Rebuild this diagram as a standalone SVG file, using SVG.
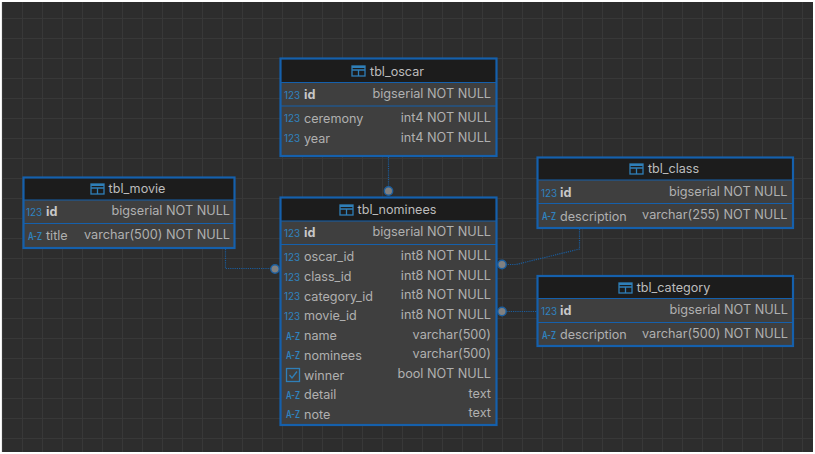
<svg xmlns="http://www.w3.org/2000/svg" width="815" height="454" viewBox="0 0 815 454">
<style>
text{font-family:"Inter","Liberation Sans",sans-serif;font-size:12.6px;fill:#b0b0b0}
.t{font-size:12.6px;text-anchor:middle;fill:#bcbcbc}
.b{font-weight:700;fill:#c8c8c8}
.r{text-anchor:end;font-size:12.7px}
.n{font-size:9.8px;fill:#2f83c0}
.a{font-size:10px;fill:#2f83c0;font-weight:600}
.body{fill:#3f3f3f}
.head{fill:#1c1c1c}
.frame{fill:none;stroke:#1560ac;stroke-width:2.2}
.sep{stroke:#1560ac;stroke-width:1}
.g{stroke:#383838;stroke-width:1.2;fill:none}
.c{fill:none;stroke:#1a5c9c;stroke-width:1.2;stroke-dasharray:1.2 1}
.d{fill:#808080;stroke:#1c5f9f;stroke-width:1.4}
.i{fill:none;stroke:#2f7fb8;stroke-width:1.3}
</style>
<defs>
<g id="ti"><rect x="0" y="0" width="13" height="10" class="i"/><path d="M0 4H13M6.500 4V10" class="i"/><rect x="0" y="0" width="13" height="2" fill="#2f7fb8"/></g>
</defs>
<rect width="815" height="454" fill="#ffffff"/>
<rect x="2" y="2" width="811" height="450" fill="#2d2d2d"/>
<path class="g" d="M2.500 2V452M22.500 2V452M42.500 2V452M62.500 2V452M82.500 2V452M102.500 2V452M122.500 2V452M142.500 2V452M162.500 2V452M182.500 2V452M202.500 2V452M222.500 2V452M242.500 2V452M262.500 2V452M282.500 2V452M302.500 2V452M322.500 2V452M342.500 2V452M362.500 2V452M382.500 2V452M402.500 2V452M422.500 2V452M442.500 2V452M462.500 2V452M482.500 2V452M502.500 2V452M522.500 2V452M542.500 2V452M562.500 2V452M582.500 2V452M602.500 2V452M622.500 2V452M642.500 2V452M662.500 2V452M682.500 2V452M702.500 2V452M722.500 2V452M742.500 2V452M762.500 2V452M782.500 2V452M802.500 2V452"/>
<path class="g" d="M2 18.500H813M2 38.500H813M2 58.500H813M2 78.500H813M2 98.500H813M2 118.500H813M2 138.500H813M2 158.500H813M2 178.500H813M2 198.500H813M2 218.500H813M2 238.500H813M2 258.500H813M2 278.500H813M2 298.500H813M2 318.500H813M2 338.500H813M2 358.500H813M2 378.500H813M2 398.500H813M2 418.500H813M2 438.500H813"/>
<g id="connectors">
<path class="c" d="M388.500 157V191"/>
<path class="c" d="M225.500 249V268.500H275"/>
<path class="c" d="M579.500 229V249L516 264.500H502"/>
<path class="c" d="M502 311.500H537"/>
<circle class="d" cx="388.500" cy="191" r="4.200"/>
<circle class="d" cx="275" cy="269" r="4.200"/>
<circle class="d" cx="502" cy="264.500" r="4.200"/>
<circle class="d" cx="502" cy="311.500" r="4.200"/>
</g>
<g id="tbl_oscar">
<rect class="body" x="280.500" y="58.500" width="216" height="97.500"/>
<rect class="head" x="280.500" y="58.500" width="216" height="23.500"/>
<path class="sep" d="M281 82.500H496M281 106H496"/>
<rect class="frame" x="280.500" y="58.500" width="216" height="97.500"/>
<use href="#ti" x="352" y="66"/>
<text class="t" x="397" y="76">tbl_oscar</text>
<text class="n" x="284" y="99">123</text><text class="b" x="304" y="99">id</text><text class="r" x="491" y="98">bigserial NOT NULL</text>
<text class="n" x="284" y="122">123</text><text x="304" y="123">ceremony</text><text class="r" x="491" y="122">int4 NOT NULL</text>
<text class="n" x="284" y="142">123</text><text x="304" y="143">year</text><text class="r" x="491" y="142">int4 NOT NULL</text>
</g>
<g id="tbl_nominees">
<rect class="body" x="280.500" y="197.500" width="216" height="227.500"/>
<rect class="head" x="280.500" y="197.500" width="216" height="23.500"/>
<path class="sep" d="M281 221H496M281 244.500H496"/>
<rect class="frame" x="280.500" y="197.500" width="216" height="227.500"/>
<use href="#ti" x="340" y="205"/>
<text class="t" x="397" y="214">tbl_nominees</text>
<text class="n" x="284" y="237">123</text><text class="b" x="304" y="237">id</text><text class="r" x="491" y="236">bigserial NOT NULL</text>
<text class="n" x="284" y="261">123</text><text x="304" y="261">oscar_id</text><text class="r" x="491" y="260">int8 NOT NULL</text>
<text class="n" x="284" y="281">123</text><text x="304" y="281">class_id</text><text class="r" x="491" y="280">int8 NOT NULL</text>
<text class="n" x="284" y="300">123</text><text x="304" y="301">category_id</text><text class="r" x="491" y="299">int8 NOT NULL</text>
<text class="n" x="284" y="320">123</text><text x="304" y="320">movie_id</text><text class="r" x="491" y="319">int8 NOT NULL</text>
<text class="a" x="286" y="340" textLength="14" lengthAdjust="spacingAndGlyphs">A-Z</text><text x="304" y="340">name</text><text class="r" x="491" y="339">varchar(500)</text>
<text class="a" x="286" y="359" textLength="14" lengthAdjust="spacingAndGlyphs">A-Z</text><text x="304" y="360">nominees</text><text class="r" x="491" y="358">varchar(500)</text>
<rect class="i" x="286.500" y="368.500" width="13" height="13"/><path class="i" d="M289.500 375L292 378L297 371.500"/><text x="304" y="380">winner</text><text class="r" x="491" y="378">bool NOT NULL</text>
<text class="a" x="286" y="399" textLength="14" lengthAdjust="spacingAndGlyphs">A-Z</text><text x="304" y="399">detail</text><text class="r" x="491" y="398">text</text>
<text class="a" x="286" y="418" textLength="14" lengthAdjust="spacingAndGlyphs">A-Z</text><text x="304" y="419">note</text><text class="r" x="491" y="417">text</text>
</g>
<g id="tbl_movie">
<rect class="body" x="23.500" y="177.500" width="211" height="70.500"/>
<rect class="head" x="23.500" y="177.500" width="211" height="22.500"/>
<path class="sep" d="M24 200H234M24 223.500H234"/>
<rect class="frame" x="23.500" y="177.500" width="211" height="70.500"/>
<use href="#ti" x="91" y="184"/>
<text class="t" x="137" y="193">tbl_movie</text>
<text class="n" x="26" y="216">123</text><text class="b" x="46" y="216">id</text><text class="r" x="230" y="215">bigserial NOT NULL</text>
<text class="a" x="28" y="240" textLength="14" lengthAdjust="spacingAndGlyphs">A-Z</text><text x="46" y="240">title</text><text class="r" x="230" y="239">varchar(500) NOT NULL</text>
</g>
<g id="tbl_class">
<rect class="body" x="537.500" y="157.500" width="255.500" height="70.500"/>
<rect class="head" x="537.500" y="157.500" width="255.500" height="22.500"/>
<path class="sep" d="M538 180H793M538 203.500H793"/>
<rect class="frame" x="537.500" y="157.500" width="255.500" height="70.500"/>
<use href="#ti" x="630" y="164"/>
<text class="t" x="673.500" y="173">tbl_class</text>
<text class="n" x="541" y="197">123</text><text class="b" x="560" y="197">id</text><text class="r" x="787.500" y="196">bigserial NOT NULL</text>
<text class="a" x="542" y="220" textLength="14" lengthAdjust="spacingAndGlyphs">A-Z</text><text x="560" y="221">description</text><text class="r" x="787.500" y="219">varchar(255) NOT NULL</text>
</g>
<g id="tbl_category">
<rect class="body" x="537.500" y="276" width="255.500" height="70"/>
<rect class="head" x="537.500" y="276" width="255.500" height="22.500"/>
<path class="sep" d="M538 298.500H793M538 322.500H793"/>
<rect class="frame" x="537.500" y="276" width="255.500" height="70"/>
<use href="#ti" x="619" y="283"/>
<text class="t" x="673.500" y="292">tbl_category</text>
<text class="n" x="541" y="315">123</text><text class="b" x="560" y="315">id</text><text class="r" x="788" y="314">bigserial NOT NULL</text>
<text class="a" x="542" y="339" textLength="14" lengthAdjust="spacingAndGlyphs">A-Z</text><text x="560" y="339">description</text><text class="r" x="788" y="338">varchar(500) NOT NULL</text>
</g>
</svg>
